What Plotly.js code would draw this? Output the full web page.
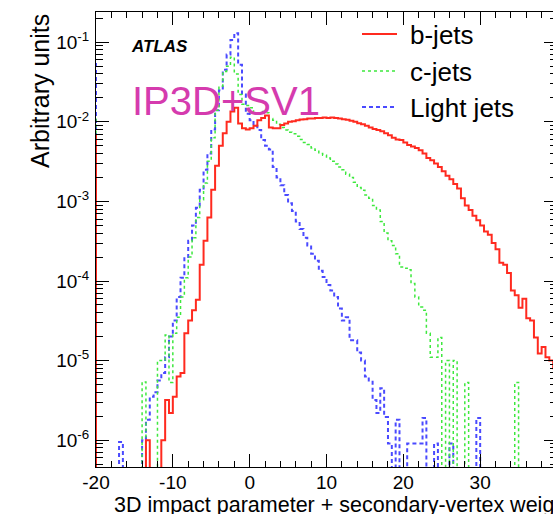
<!DOCTYPE html>
<html><head><meta charset="utf-8">
<script src="https://cdn.plot.ly/plotly-3.0.1.min.js"></script>
<style>html,body{margin:0;padding:0;overflow:hidden;background:#fff;width:553px;height:514px}#chart{width:600px;height:514px}</style>
</head><body><div id="chart"></div>
<script>
// Histogram binning (bins of 0.5 from -20 to 40)
const binStart = -20;
const binWidth = 0.5;

// b-jets, 120 bins
const bJets = [
 0,0,0,0,0,0,0,0,0,0,
 0,0,0,1e-6,0,0,0,1e-6,3.2e-6,2.2e-6,
 3.5e-6,6.3e-6,7e-6,2.2e-5,3.2e-5,4.3e-5,5.8e-5,1.6e-4,3.2e-4,6.3e-4,
 1.4e-3,2.8e-3,5e-3,7.2e-3,1e-2,1.35e-2,1.5e-2,9.5e-3,8.3e-3,8e-3,
 8.3e-3,8.9e-3,1.05e-2,1.12e-2,1.2e-2,8.5e-3,8.3e-3,8.3e-3,9.1e-3,9.5e-3,
 1e-2,1.02e-2,1.05e-2,1.07e-2,1.08e-2,1.1e-2,1.1e-2,1.12e-2,1.12e-2,1.13e-2,
 1.12e-2,1.13e-2,1.12e-2,1.1e-2,1.08e-2,1.06e-2,1.03e-2,1e-2,9.6e-3,9.3e-3,
 8.9e-3,8.5e-3,8.1e-3,7.9e-3,7.6e-3,7.2e-3,6.8e-3,6.3e-3,6e-3,5.9e-3,
 5.5e-3,5.1e-3,4.9e-3,4.7e-3,4.4e-3,4e-3,3.5e-3,3.3e-3,3e-3,2.7e-3,
 2.4e-3,2.1e-3,1.9e-3,1.66e-3,1.45e-3,1.1e-3,8.9e-4,7.8e-4,6.6e-4,5.8e-4,
 5e-4,4.2e-4,3.8e-4,3e-4,2.5e-4,1.7e-4,1.6e-4,1.26e-4,7.6e-5,6.6e-5,
 4.6e-5,6e-5,3.4e-5,3.2e-5,1.95e-5,1.23e-5,1.48e-5,1.1e-5,1e-5,8e-6
];
// c-jets, 120 bins
const cJets = [
 0,0,0,0,0,0,0,0,0,0,
 0,0,5.4e-6,0,0,0,1e-5,1e-5,2.1e-5,5.3e-6,
 2.2e-5,3.5e-5,6.3e-5,1.1e-4,2e-4,3.5e-4,6.3e-4,1.05e-3,1.7e-3,3.2e-3,
 6.3e-3,1.4e-2,2.8e-2,4.3e-2,5e-2,6.5e-2,4e-2,2.2e-2,1.66e-2,1.6e-2,
 1.5e-2,1.3e-2,1.3e-2,1.35e-2,1.3e-2,1.1e-2,1.05e-2,9.3e-3,8.5e-3,7.9e-3,
 7.4e-3,7.1e-3,6.6e-3,6e-3,5.5e-3,5.2e-3,4.7e-3,4.4e-3,4e-3,3.8e-3,
 3.5e-3,3.2e-3,2.95e-3,2.7e-3,2.5e-3,2.2e-3,2e-3,1.74e-3,1.5e-3,1.38e-3,
 1.2e-3,1.1e-3,8.9e-4,7.8e-4,5.6e-4,4e-4,3.2e-4,2.8e-4,2.2e-4,1.5e-4,
 1.45e-4,1.38e-4,9.3e-5,6.3e-5,4.7e-5,4.3e-5,2.2e-5,1.1e-5,1.1e-5,1.95e-5,
 0,1e-5,0,1e-5,0,0,5.3e-6,0,0,0,
 0,0,0,0,0,0,0,0,0,5.3e-6,
 0,0,0,0,0,0,0,0,0,0
];
// light jets, 120 bins
const lightJets = [
 0,0,0,0,0,0,9.5e-7,0,0,0,
 0,0,1e-6,1.8e-6,3.5e-6,4e-6,5.6e-6,7e-6,1.1e-5,2e-5,
 3.2e-5,6.3e-5,1.1e-4,2e-4,3.2e-4,5e-4,8.3e-4,1.4e-3,2.5e-3,4e-3,
 8e-3,1.4e-2,2.5e-2,4.5e-2,7e-2,1.07e-1,1.3e-1,5.2e-2,2.2e-2,1.26e-2,
 1.05e-2,8.9e-3,7.9e-3,5.9e-3,5e-3,4.5e-3,2.7e-3,2e-3,1.6e-3,1.2e-3,
 9.5e-4,7.6e-4,5.6e-4,4.5e-4,3.5e-4,2.8e-4,2.2e-4,1.8e-4,1.35e-4,1.12e-4,
 8.9e-5,7.6e-5,6.3e-5,4.5e-5,3.2e-5,3.5e-5,1.8e-5,1.8e-5,1.26e-5,1e-5,
 6.3e-6,5.6e-6,3.2e-6,2.2e-6,4.5e-6,1.95e-6,9.1e-7,0,1.8e-6,0,
 0,9.1e-7,9.1e-7,9.1e-7,9.1e-7,1.9e-6,0,0,9.1e-7,0,
 0,0,9.1e-7,0,0,0,0,0,0,1.9e-6,
 0,0,0,0,0,0,0,0,0,0,
 0,0,0,0,0,0,0,0,0,0
];
// level where each histogram's line starts at the left frame edge
const bLeftEdge = 7e-3;
const cLeftEdge = 1.1e-2;
const lightLeftEdge = 5.5e-2;

const seriesNames = ["b-jets", "c-jets", "Light jets"];
const xTickVals = [-20, -10, 0, 10, 20, 30];
const xTickText = ["-20", "-10", "0", "10", "20", "30"];
const yTickVals = [1e-6, 1e-5, 1e-4, 1e-3, 1e-2, 1e-1];
const yTickText = ["10<sup>-6</sup>", "10<sup>-5</sup>", "10<sup>-4</sup>", "10<sup>-3</sup>", "10<sup>-2</sup>", "10<sup>-1</sup>"];

const FLOOR = 1e-9; // empty bins drop below the axis
const FONT = "Liberation Sans, Arial, Helvetica, sans-serif";
const COLORS = {b: "#ff2a1f", c: "#3ee83e", l: "#4a4aff"};

function stepTrace(vals, edgeLevel, name, line) {
  const x = [binStart], y = [edgeLevel];
  for (let i = 0; i < vals.length; i++) {
    x.push(binStart + i * binWidth);
    y.push(vals[i] > 0 ? vals[i] : FLOOR);
  }
  x.push(binStart + vals.length * binWidth);
  y.push(vals[vals.length - 1] > 0 ? vals[vals.length - 1] : FLOOR);
  return {type: "scatter", mode: "lines", x: x, y: y, name: name,
          line: Object.assign({shape: "hv"}, line), hoverinfo: "skip", showlegend: false};
}

const traces = [
  stepTrace(lightJets, lightLeftEdge, seriesNames[2], {color: COLORS.l, width: 2, dash: "4px,3px"}),
  stepTrace(cJets, cLeftEdge, seriesNames[1], {color: COLORS.c, width: 1.5, dash: "dot"}),
  stepTrace(bJets, bLeftEdge, seriesNames[0], {color: COLORS.b, width: 2})
];

const yMinor = [];
for (let e = -7; e <= 0; e++) for (let m = 2; m <= 9; m++) yMinor.push(m * Math.pow(10, e));

// plot area in pixels: left 96, top 12, width 461, height 455
const PL = 96, PT = 12, PW = 461, PH = 455;
const px = v => (v - PL) / PW;
const py = v => (PT + PH - v) / PH;

const legendRows = [
  {name: seriesNames[0], color: COLORS.b, dash: "solid", width: 2, y: 34},
  {name: seriesNames[1], color: COLORS.c, dash: "dot", width: 1.5, y: 71},
  {name: seriesNames[2], color: COLORS.l, dash: "4px,3px", width: 2, y: 107}
];

const annotations = [
  {text: "<b><i>ATLAS</i></b>", x: px(129), y: py(47), xref: "paper", yref: "paper",
   xanchor: "left", yanchor: "middle", showarrow: false, font: {family: FONT, size: 17, color: "#000"}},
  {text: "IP3D+SV1", x: px(130), y: py(101), xref: "paper", yref: "paper",
   xanchor: "left", yanchor: "middle", showarrow: false, font: {family: FONT, size: 40, color: "#d53bae"}},
  {text: "Arbitrary units", x: px(40), y: 1.0, xref: "paper", yref: "paper", textangle: -90,
   xanchor: "center", yanchor: "top", showarrow: false, font: {family: FONT, size: 25, color: "#000"}},
  {text: "3D impact parameter + secondary-vertex weight", x: px(112), y: py(505), xref: "paper", yref: "paper",
   xanchor: "left", yanchor: "middle", showarrow: false, font: {family: FONT, size: 21.5, color: "#000"}}
];
const shapes = [];
legendRows.forEach(r => {
  annotations.push({text: r.name, x: px(408), y: py(r.y + 1), xref: "paper", yref: "paper",
    xanchor: "left", yanchor: "middle", showarrow: false, font: {family: FONT, size: 26, color: "#000"}});
  shapes.push({type: "line", xref: "paper", yref: "paper", x0: px(362), x1: px(397), y0: py(r.y), y1: py(r.y),
    line: {color: r.color, width: r.width, dash: r.dash}});
});

const layout = {
  width: 600, height: 514,
  margin: {l: PL, r: 600 - PL - PW, t: PT, b: 514 - PT - PH},
  paper_bgcolor: "#fff", plot_bgcolor: "#fff",
  showlegend: false,
  font: {family: FONT, color: "#000"},
  xaxis: {
    range: [-20, 40], tickmode: "array", tickvals: xTickVals, ticktext: xTickText,
    ticks: "inside", ticklen: 13, tickwidth: 1, tickcolor: "#000",
    showline: true, linecolor: "#000", linewidth: 1, mirror: "ticks",
    showgrid: false, zeroline: false, ticklabelstandoff: -2,
    minor: {tick0: 0, dtick: 2, ticks: "inside", ticklen: 6, tickcolor: "#000", showgrid: false},
    tickfont: {family: FONT, size: 19, color: "#000"}
  },
  yaxis: {
    type: "log", range: [Math.log10(4.6e-7), Math.log10(0.24)],
    tickmode: "array", tickvals: yTickVals, ticktext: yTickText,
    ticks: "inside", ticklen: 13, tickwidth: 1, tickcolor: "#000",
    showline: true, linecolor: "#000", linewidth: 1, mirror: "ticks",
    showgrid: false, zeroline: false, ticklabelstandoff: 2,
    minor: {tickmode: "array", tickvals: yMinor, ticks: "inside", ticklen: 7, tickcolor: "#000", showgrid: false},
    tickfont: {family: FONT, size: 19, color: "#000"}
  },
  annotations: annotations,
  shapes: shapes
};

Plotly.newPlot("chart", traces, layout, {staticPlot: true, displayModeBar: false});
</script>
</body></html>
